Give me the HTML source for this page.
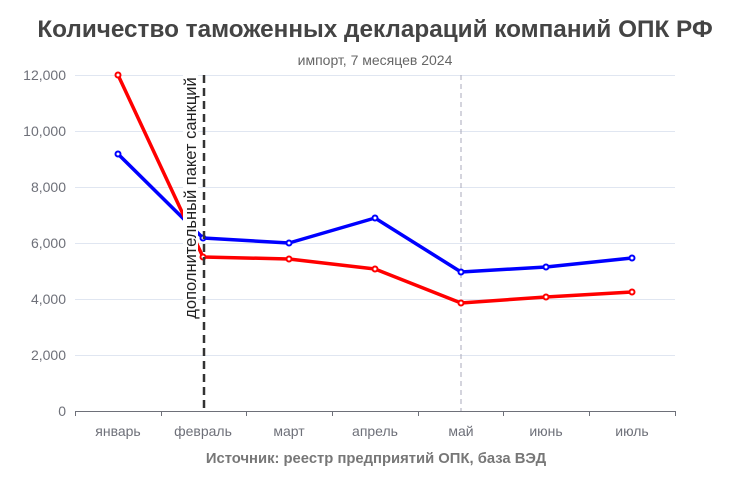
<!DOCTYPE html>
<html><head><meta charset="utf-8"><style>body{margin:0;background:#fff}svg{display:block}</style></head><body>
<svg width="750" height="500" xmlns="http://www.w3.org/2000/svg" font-family="Liberation Sans, DejaVu Sans, sans-serif">
<text x="375" y="37" text-anchor="middle" font-size="24.3" font-weight="bold" fill="#444">Количество таможенных деклараций компаний ОПК РФ</text>
<text x="375" y="65" text-anchor="middle" font-size="14" fill="#666">импорт, 7 месяцев 2024</text>
<g stroke="#e0e6f1" stroke-width="1">
<line x1="75" x2="675" y1="75.5" y2="75.5"/><line x1="75" x2="675" y1="131.5" y2="131.5"/><line x1="75" x2="675" y1="187.5" y2="187.5"/><line x1="75" x2="675" y1="243.5" y2="243.5"/><line x1="75" x2="675" y1="299.5" y2="299.5"/><line x1="75" x2="675" y1="355.5" y2="355.5"/>
</g>
<line x1="75" x2="675" y1="411.5" y2="411.5" stroke="#6e7079"/>
<g stroke="#6e7079"><line x1="75.5" x2="75.5" y1="411" y2="416"/><line x1="161.5" x2="161.5" y1="411" y2="416"/><line x1="246.5" x2="246.5" y1="411" y2="416"/><line x1="332.5" x2="332.5" y1="411" y2="416"/><line x1="418.5" x2="418.5" y1="411" y2="416"/><line x1="503.5" x2="503.5" y1="411" y2="416"/><line x1="589.5" x2="589.5" y1="411" y2="416"/><line x1="675.5" x2="675.5" y1="411" y2="416"/></g>
<g font-size="14" fill="#6e7079" text-anchor="end">
<text x="66" y="80">12,000</text><text x="66" y="136">10,000</text><text x="66" y="192">8,000</text><text x="66" y="248">6,000</text><text x="66" y="304">4,000</text><text x="66" y="360">2,000</text><text x="66" y="416">0</text></g>
<g font-size="14" fill="#6e7079" text-anchor="middle">
<text x="118" y="436">январь</text><text x="203" y="436">февраль</text><text x="289" y="436">март</text><text x="375" y="436">апрель</text><text x="461" y="436">май</text><text x="546" y="436">июнь</text><text x="632" y="436">июль</text></g>
<line x1="461" x2="461" y1="75" y2="411" stroke="#aab" stroke-dasharray="5,4"/>
<polyline fill="none" stroke="#0000ff" stroke-width="3.5" stroke-linejoin="round" points="118,154 203,238 289,243 375,218 461,272 546,267 632,258"/>
<polyline fill="none" stroke="#ff0000" stroke-width="3.5" stroke-linejoin="round" points="118,75 203,257 289,259 375,269 461,303 546,297 632,292"/>
<g fill="#fff" stroke-width="2">
<g stroke="#0000ff"><circle cx="118" cy="154" r="2.5"/><circle cx="203" cy="238" r="2.5"/><circle cx="289" cy="243" r="2.5"/><circle cx="375" cy="218" r="2.5"/><circle cx="461" cy="272" r="2.5"/><circle cx="546" cy="267" r="2.5"/><circle cx="632" cy="258" r="2.5"/></g>
<g stroke="#ff0000"><circle cx="118" cy="75" r="2.5"/><circle cx="203" cy="257" r="2.5"/><circle cx="289" cy="259" r="2.5"/><circle cx="375" cy="269" r="2.5"/><circle cx="461" cy="303" r="2.5"/><circle cx="546" cy="297" r="2.5"/><circle cx="632" cy="292" r="2.5"/></g>
</g>
<rect x="183" y="75" width="15" height="248" fill="#fff"/>
<text transform="translate(196,198) rotate(-90)" text-anchor="middle" font-size="16.5" fill="#222">дополнительный пакет санкций</text>
<line x1="204" x2="204" y1="75" y2="411" stroke="#333" stroke-width="2.5" stroke-dasharray="8,5"/>
<text x="376" y="463" text-anchor="middle" font-size="14.8" font-weight="bold" fill="#777">Источник: реестр предприятий ОПК, база ВЭД</text>
</svg>
</body></html>
